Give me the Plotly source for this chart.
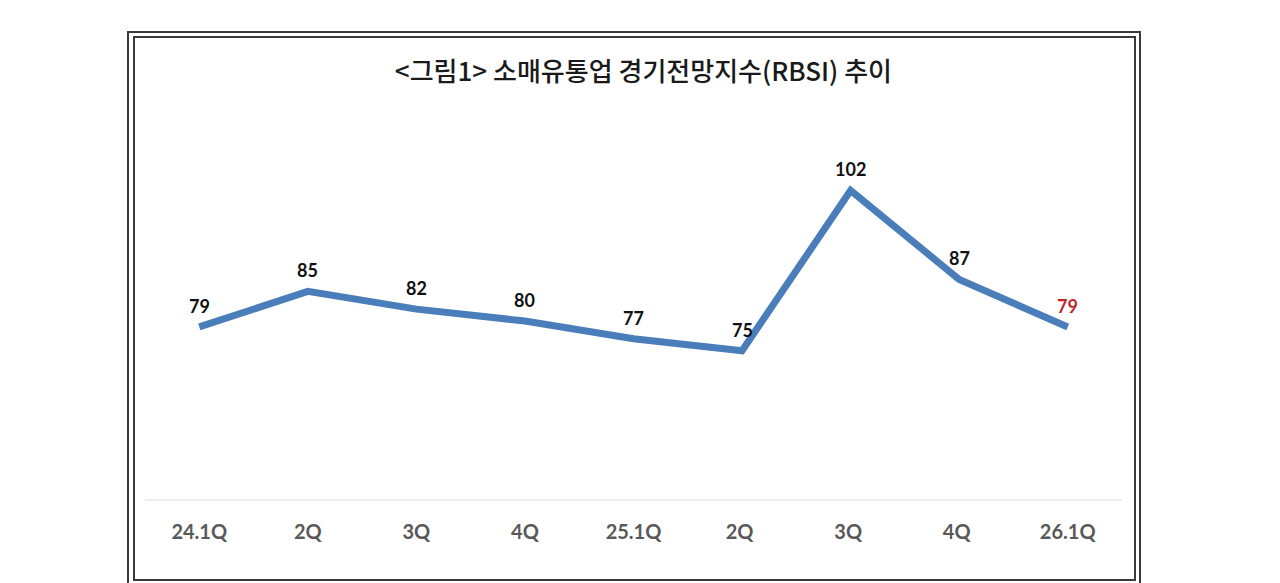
import plotly.graph_objects as go

quarters = ['24.1Q', '2Q', '3Q', '4Q', '25.1Q', '2Q ', '3Q ', '4Q ', '26.1Q']
rbsi = [79, 85, 82, 80, 77, 75, 102, 87, 79]
label_colors = ['#111111'] * 8 + ['#c0272d']

W, H = 1280, 583
OFF = 8  # page body margin of the html
L, T = 145 - OFF, 143 - OFF
PW, PH = 977, 356
R, B = W - L - PW, H - T - PH


def px(x):
    return (x - OFF - L) / PW


def py(y):
    return (T + PH - (y - OFF)) / PH


trace = go.Scatter(x=quarters, y=rbsi, mode='lines',
                   line={'color': '#4a7ebb', 'width': 7},
                   cliponaxis=False, hoverinfo='skip')

fig = go.Figure(data=[trace])

for q, v, c in zip(quarters, rbsi, label_colors):
    fig.add_annotation(x=q, y=v, text=str(v), showarrow=False, yshift=21,
                       font={'family': 'Lato', 'size': 18, 'color': c,
                             'weight': 'bold'})

fig.update_layout(
    width=W, height=H, margin={'l': L, 'r': R, 't': T, 'b': B},
    paper_bgcolor='white', plot_bgcolor='white', showlegend=False,
    title={'text': '<그림1> 소매유통업 경기전망지수(RBSI) 추이',
           'x': px(630), 'xanchor': 'center', 'y': 1 - (72 - OFF) / H,
           'yanchor': 'middle',
           'font': {'family': 'Noto Sans CJK KR', 'size': 26, 'color': '#1a1a1a',
                    'weight': 500}},
    xaxis={'type': 'category', 'range': [-0.5, 8.5], 'showgrid': False,
           'showline': True, 'linecolor': '#eeeeee', 'linewidth': 2,
           'ticks': 'outside', 'ticklen': 14, 'tickcolor': 'rgba(0,0,0,0)',
           'tickfont': {'family': 'Lato', 'size': 20, 'color': '#595959',
                        'weight': 'bold'}},
    yaxis={'range': [50, 110], 'visible': False},
)

# double frame around the picture
for x0, x1, y0, y1 in [(128, 1140, 32, 592), (134, 1135, 37, 580)]:
    fig.add_shape(type='rect', xref='paper', yref='paper',
                  x0=px(x0), x1=px(x1), y0=py(y1), y1=py(y0),
                  line={'color': '#3a3a3a', 'width': 2})

fig.write_html('out.html')
